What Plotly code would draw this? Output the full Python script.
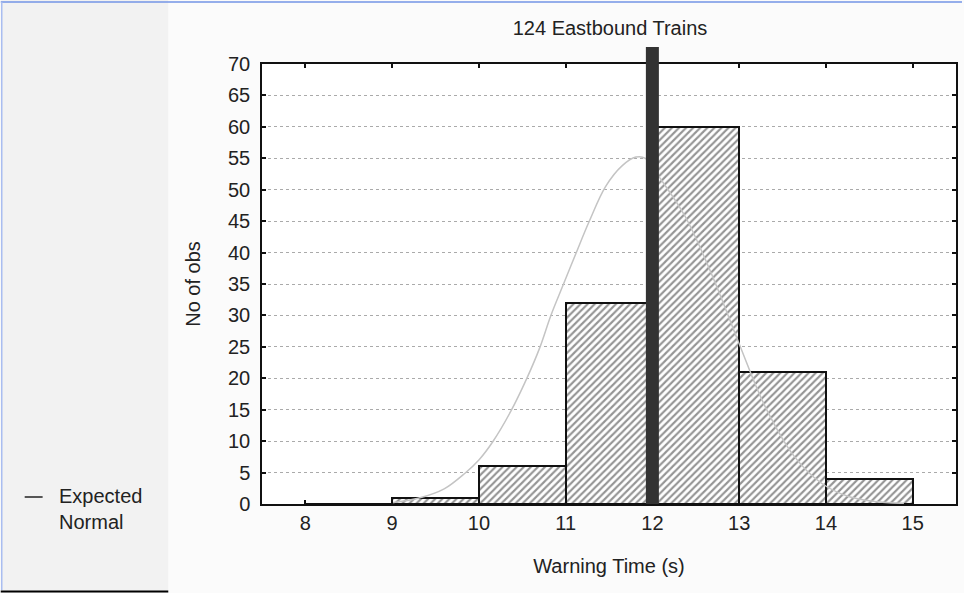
import plotly.graph_objects as go

# ---- data ----
bin_left = [8, 9, 10, 11, 12, 13, 14]
counts = [0, 1, 6, 32, 60, 21, 4]
bin_width = 1
threshold_x = 12
threshold_top = 72.7

normal_x = [9.0, 9.3, 9.6, 9.84, 10.0, 10.16, 10.37, 10.55, 10.70, 10.83, 10.97, 11.12,
            11.27, 11.46, 11.65, 11.81, 11.92, 12.08, 12.38, 12.7, 13.0, 13.3, 13.64,
            13.95, 14.26, 14.56, 14.9]
normal_y = [0.2, 0.9, 2.4, 4.9, 7.0, 9.9, 14.8, 19.9, 24.8, 30.0, 34.8, 39.9,
            44.9, 50.5, 53.8, 55.2, 55.0, 52.0, 45.7, 36.0, 25.5, 15.5, 7.5,
            3.3, 1.2, 0.4, 0.1]

x_ticks = [8, 9, 10, 11, 12, 13, 14, 15]
y_ticks = list(range(0, 75, 5))

title_text = "124 Eastbound Trains"
x_title = "Warning Time (s)"
y_title = "No of obs"
legend_text = "Expected<br>Normal"

# ---- layout geometry ----
W, H = 964, 593
L, R, T, B = 262, 6, 64, 89
PW, PH = W - L - R, H - T - B


def px(x):
    return (x - L) / PW


def py(y):
    return (H - B - y) / PH


FONT = "Liberation Sans, Arial, sans-serif"
fs = 20

centers = [b + bin_width / 2 for b in bin_left]

fig = go.Figure()
fig.add_trace(go.Bar(
    x=centers, y=counts, width=bin_width,
    marker=dict(color="white",
                line=dict(color="#111111", width=2),
                pattern=dict(shape="/", fgcolor="#2a2a2a", bgcolor="white",
                             size=5, solidity=0.42)),
    showlegend=False, hoverinfo="x+y",
))
fig.add_trace(go.Scatter(
    x=normal_x, y=normal_y, mode="lines", line=dict(color="#c4c4c4", width=1.5, shape="spline"),
    name="Expected Normal", showlegend=False,
))

shapes = [
    # left panel
    dict(type="rect", xref="paper", yref="paper", x0=px(0), x1=px(168), y0=py(593), y1=py(0),
         fillcolor="#f2f2f2", line=dict(width=0), layer="below"),
    # blue top line
    dict(type="line", xref="paper", yref="paper", x0=px(0), x1=px(964), y0=py(2), y1=py(2),
         line=dict(color="#7394e6", width=1.5)),
    # blue left line
    dict(type="line", xref="paper", yref="paper", x0=px(1), x1=px(1), y0=py(2), y1=py(590),
         line=dict(color="#a9bdf0", width=1.5)),
    # black bottom line of panel
    dict(type="line", xref="paper", yref="paper", x0=px(0), x1=px(168), y0=py(591.5), y1=py(591.5),
         line=dict(color="#000000", width=2)),
    # legend swatch
    dict(type="line", xref="paper", yref="paper", x0=px(24), x1=px(42), y0=py(497), y1=py(497),
         line=dict(color="#222222", width=1.5)),
    # threshold line
    dict(type="line", xref="x", yref="paper", x0=threshold_x, x1=threshold_x,
         y0=0, y1=threshold_top / 70, line=dict(color="#333333", width=13), layer="above"),
]

annotations = [
    dict(xref="paper", yref="paper", x=px(56), y=py(509), xanchor="left", yanchor="middle",
         text=legend_text, showarrow=False, align="left",
         font=dict(family=FONT, size=fs, color="#222222")),
]

axis_common = dict(
    showline=True, linecolor="#111111", linewidth=1.5, mirror="ticks",
    ticks="inside", ticklen=4, tickcolor="#111111", tickwidth=1.5,
    tickfont=dict(family=FONT, size=fs, color="#222222"),
    zeroline=False,
)

fig.update_layout(
    width=W, height=H,
    margin=dict(l=L, r=R, t=T, b=B, pad=0),
    paper_bgcolor="#fbfbfb", plot_bgcolor="white",
    bargap=0,
    title=dict(text=title_text, x=610 / W, xanchor="center", y=1 - 28 / H, yanchor="middle",
               yref="container", font=dict(family=FONT, size=fs, color="#222222")),
    xaxis=dict(range=[7.5, 15.5], tickvals=x_ticks, showgrid=False,
               title=dict(text=x_title, font=dict(family=FONT, size=fs, color="#222222"), standoff=26),
               **axis_common),
    yaxis=dict(range=[0, 70], tickvals=y_ticks, showgrid=True, gridcolor="#aaaaaa",
               griddash="dot", gridwidth=1, ticklabelstandoff=6,
               title=dict(text=y_title, font=dict(family=FONT, size=fs, color="#222222"), standoff=22),
               **axis_common),
    shapes=shapes, annotations=annotations,
    font=dict(family=FONT, size=fs, color="#222222"),
)

fig.write_html("out.html", config={"displayModeBar": False},
               post_script="document.body.style.margin='0';document.body.style.overflow='hidden';")
